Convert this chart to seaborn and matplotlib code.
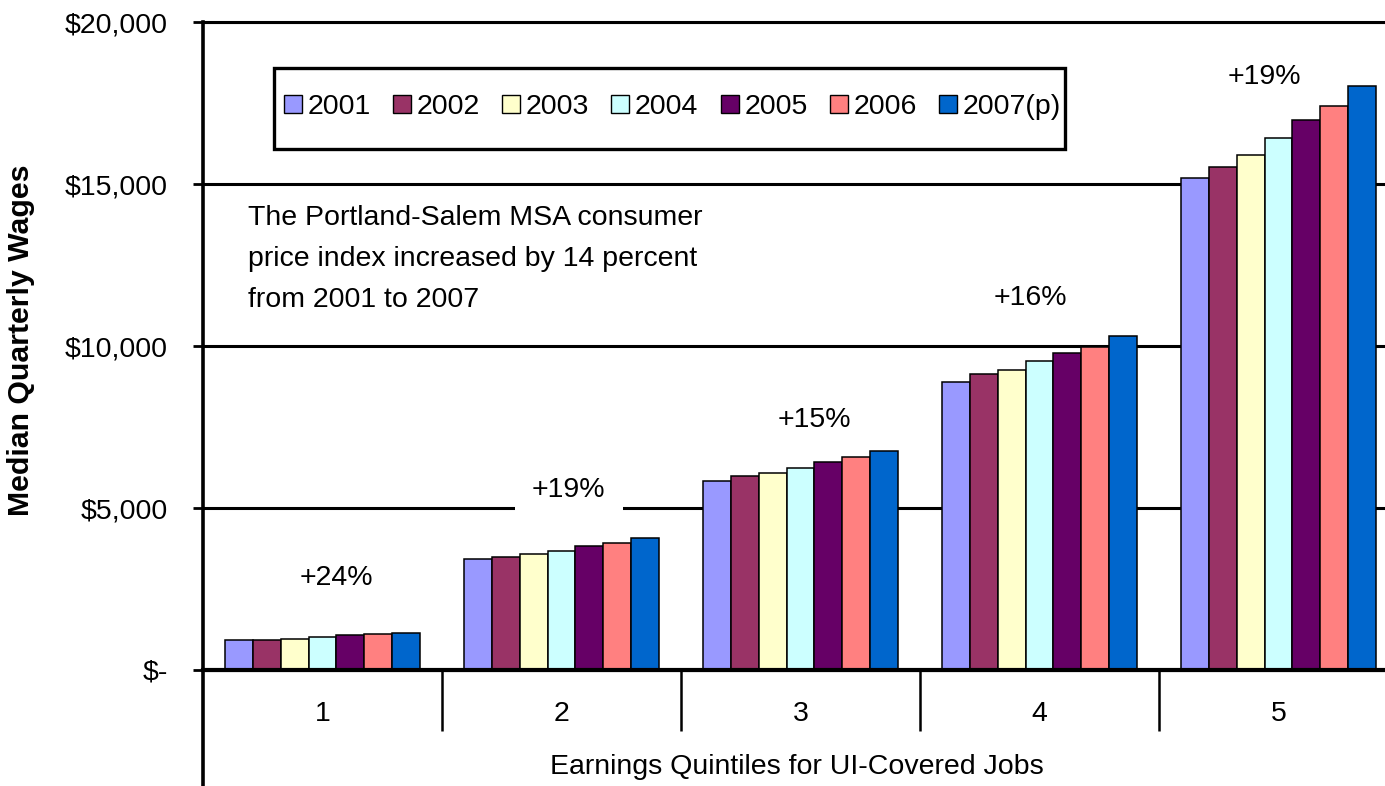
import matplotlib
matplotlib.use("Agg")
import matplotlib.pyplot as plt
import matplotlib.ticker as mticker
from matplotlib.patches import Rectangle
import seaborn as sns
import pandas as pd

# ---- data ----
quintiles = ["1", "2", "3", "4", "5"]
years = ["2001", "2002", "2003", "2004", "2005", "2006", "2007(p)"]
wages_2001 = [915, 3420, 5840, 8890, 15200]
wages_2002 = [935, 3490, 5990, 9150, 15540]
wages_2003 = [965, 3570, 6080, 9250, 15880]
wages_2004 = [1005, 3680, 6245, 9530, 16420]
wages_2005 = [1085, 3815, 6410, 9785, 16965]
wages_2006 = [1110, 3910, 6575, 9970, 17420]
wages_2007 = [1140, 4065, 6760, 10320, 18015]
growth_labels = ["+24%", "+19%", "+15%", "+16%", "+19%"]
colors = ["#9999FF", "#993366", "#FFFFCC", "#CCFFFF", "#660066", "#FF8080", "#0066CC"]

series = [wages_2001, wages_2002, wages_2003, wages_2004, wages_2005, wages_2006, wages_2007]
rows = []
for yr, vals in zip(years, series):
    for q, v in zip(quintiles, vals):
        rows.append({"Quintile": q, "Year": yr, "Wage": v})
df = pd.DataFrame(rows)

# ---- layout constants (label placement) ----
label_dx = [0.06, 0.03, 0.06, -0.04, -0.06]
label_y = [2840, 5556, 7716, 11481, 18302]

sns.set_style("white")
plt.rcParams["font.family"] = ["Liberation Sans", "DejaVu Sans"]
plt.rcParams["text.color"] = "black"
plt.rcParams["axes.labelcolor"] = "black"
plt.rcParams["xtick.color"] = "black"
plt.rcParams["ytick.color"] = "black"
FS = 20.5

W, H = 1385, 786
fig = plt.figure(figsize=(W / 100, H / 100), dpi=100)
ax = fig.add_axes([203 / W, 0, (W - 203) / W, (H - 22) / H])

sns.barplot(data=df, x="Quintile", y="Wage", hue="Year", order=quintiles,
            hue_order=years, palette=colors, width=0.82, saturation=1,
            edgecolor="black", linewidth=1.1, errorbar=None, ax=ax)

ax.set_xlim(-0.5, -0.5 + (W - 203) / 239)
ax.set_ylim(-(H - 670) / 0.0324, 20000)

# spines
ax.spines["right"].set_visible(False)
ax.spines["top"].set_color("black")
ax.spines["top"].set_linewidth(2.2)
ax.spines["left"].set_color("black")
ax.spines["left"].set_linewidth(2.6)
ax.spines["bottom"].set_position(("data", 0))
ax.spines["bottom"].set_color("black")
ax.spines["bottom"].set_linewidth(3)

# y axis
ax.set_yticks([0, 5000, 10000, 15000, 20000])
ax.yaxis.set_major_formatter(mticker.FuncFormatter(
    lambda v, p: "$-" if v == 0 else "${:,.0f}".format(v)))
ax.tick_params(axis="y", direction="out", length=7.5, width=2, color="black",
               pad=18, labelsize=FS, left=True, labelcolor="black")
ax.yaxis.grid(True, color="black", linewidth=2.2)
ax.xaxis.grid(False)
ax.set_axisbelow(True)

# x axis
ax.tick_params(axis="x", which="major", length=0, pad=22, labelsize=FS,
               labelcolor="black")
ax.xaxis.set_minor_locator(mticker.FixedLocator([0.5, 1.5, 2.5, 3.5]))
ax.tick_params(axis="x", which="minor", direction="out", length=44, width=1.8,
               color="black", bottom=True)

ax.set_xlabel("Earnings Quintiles for UI-Covered Jobs", fontsize=FS, color="black")
ax.xaxis.set_label_coords((797 - 203) / (W - 203), (H - 767) / (H - 22))
ax.xaxis.label.set_va("center")
ax.set_ylabel("Median Quarterly Wages", fontsize=21.8, fontweight="bold", color="black")
ax.yaxis.set_label_coords((21 - 203) / (W - 203), (H - 340) / (H - 22))
ax.yaxis.label.set_va("center")

# growth labels
for i, lab in enumerate(growth_labels):
    ax.text(i + label_dx[i], label_y[i], lab, ha="center", va="center",
            fontsize=FS, zorder=5, color="black",
            bbox=dict(facecolor="white", edgecolor="none", boxstyle="square,pad=0.6"))

# CPI note
fig.text(248 / W, 1 - 259 / H,
         "The Portland-Salem MSA consumer\nprice index increased by 14 percent\nfrom 2001 to 2007",
         ha="left", va="center", fontsize=FS, linespacing=1.75, color="black")

# legend (frame drawn as a separate box to match the wide vertical padding)
handles, labels = ax.get_legend_handles_labels()
leg = ax.legend(handles, labels, loc="center left",
                bbox_to_anchor=(284 / W, 1 - 107 / H), bbox_transform=fig.transFigure,
                ncol=7, frameon=False, borderpad=0, borderaxespad=0,
                handlelength=0.63, handleheight=0.63, handletextpad=0.2,
                columnspacing=0.78, fontsize=FS)
for t in leg.get_texts():
    t.set_color("black")
for h in leg.legend_handles:
    h.set_edgecolor("black")
    h.set_linewidth(1.0)
fig.add_artist(Rectangle((274 / W, 1 - 149 / H), (1065 - 274) / W, (149 - 68) / H,
                         transform=fig.transFigure, facecolor="none",
                         edgecolor="black", linewidth=2.4, zorder=3))

fig.savefig("out.png", dpi=100)
